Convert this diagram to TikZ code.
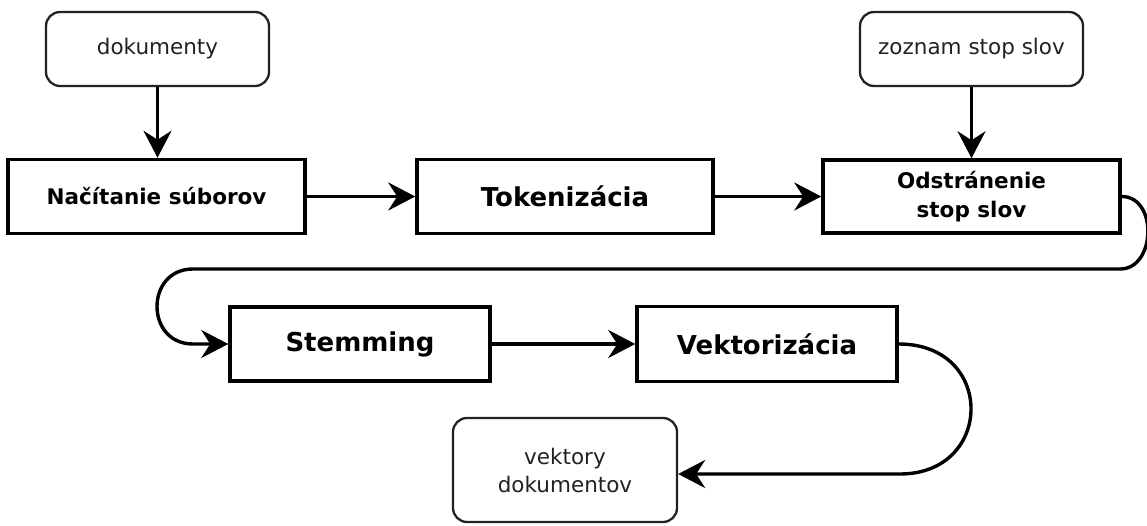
\documentclass[tikz,border=0pt]{standalone}
\usepackage{fontspec}
\setmainfont{DejaVu Sans}
\usetikzlibrary{arrows.meta,calc}
\definecolor{inkgray}{HTML}{222222}
\begin{document}
\begin{tikzpicture}[x=1pt,y=-1pt,
  source/.style={draw=inkgray, line width=2.3pt, rounded corners=14pt, inner sep=0pt,
    text=inkgray, font=\fontsize{21.5}{28}\selectfont, align=center},
  stage/.style={draw=black, line width=3.5pt, inner sep=0pt,
    font=\bfseries\fontsize{21.5}{29}\selectfont, align=center},
  bigstage/.style={stage, font=\bfseries\fontsize{26}{30}\selectfont},
  flow/.style={line width=3.4pt, -{Stealth[length=27pt,width=28pt,inset=9pt]}},
]
\useasboundingbox (0,0) rectangle (1147,526);

% inputs
\node[source, minimum width=223pt, minimum height=74pt] (dok) at (157.5,49) {dokumenty};
\node[source, minimum width=223pt, minimum height=74pt] (zoz) at (971.5,49) {zoznam stop slov};

% first row of processing stages
\node[stage, minimum width=297pt, minimum height=74pt] (nac) at (156.5,196.5) {Načítanie súborov};
\node[bigstage, minimum width=296pt, minimum height=74pt] (tok) at (565,196.5) {Tokenizácia};
\node[stage, minimum width=297pt, minimum height=73pt] (ods) at (971.5,196.5) {Odstránenie\\stop slov};

% second row
\node[bigstage, minimum width=260pt, minimum height=74pt] (stem) at (360,344) {Stemming};
\node[bigstage, minimum width=260pt, minimum height=75pt] (vek) at (767,344) {Vektorizácia};

% output
\node[source, minimum width=224pt, minimum height=104pt] (vd) at (565,470) {vektory\\dokumentov};

% bends of the long connectors
\coordinate (wrapR) at (1120,269);
\coordinate (wrapL) at (193,269);
\coordinate (wrapIn) at (193,344);
\coordinate (outV) at (900,474);

% connectors
\draw[flow] (dok.south) -- (dok.south |- nac.north);
\draw[flow] (zoz.south) -- (zoz.south |- ods.north);
\draw[flow] (nac.east) -- (nac.east -| tok.west);
\draw[flow] (tok.east) -- (tok.east -| ods.west);
\draw[flow] (ods.east) .. controls +(36,0) and +(36,0) .. (wrapR) -- (wrapL)
  .. controls +(-48,0) and +(-48,0) .. (wrapIn) -- (wrapIn -| stem.west);
\draw[flow] (stem.east) -- (stem.east -| vek.west);
\draw[flow] (vek.east) .. controls +(97,0) and +(94,0) .. (outV) -- (vd.east |- outV);
\end{tikzpicture}
\end{document}
